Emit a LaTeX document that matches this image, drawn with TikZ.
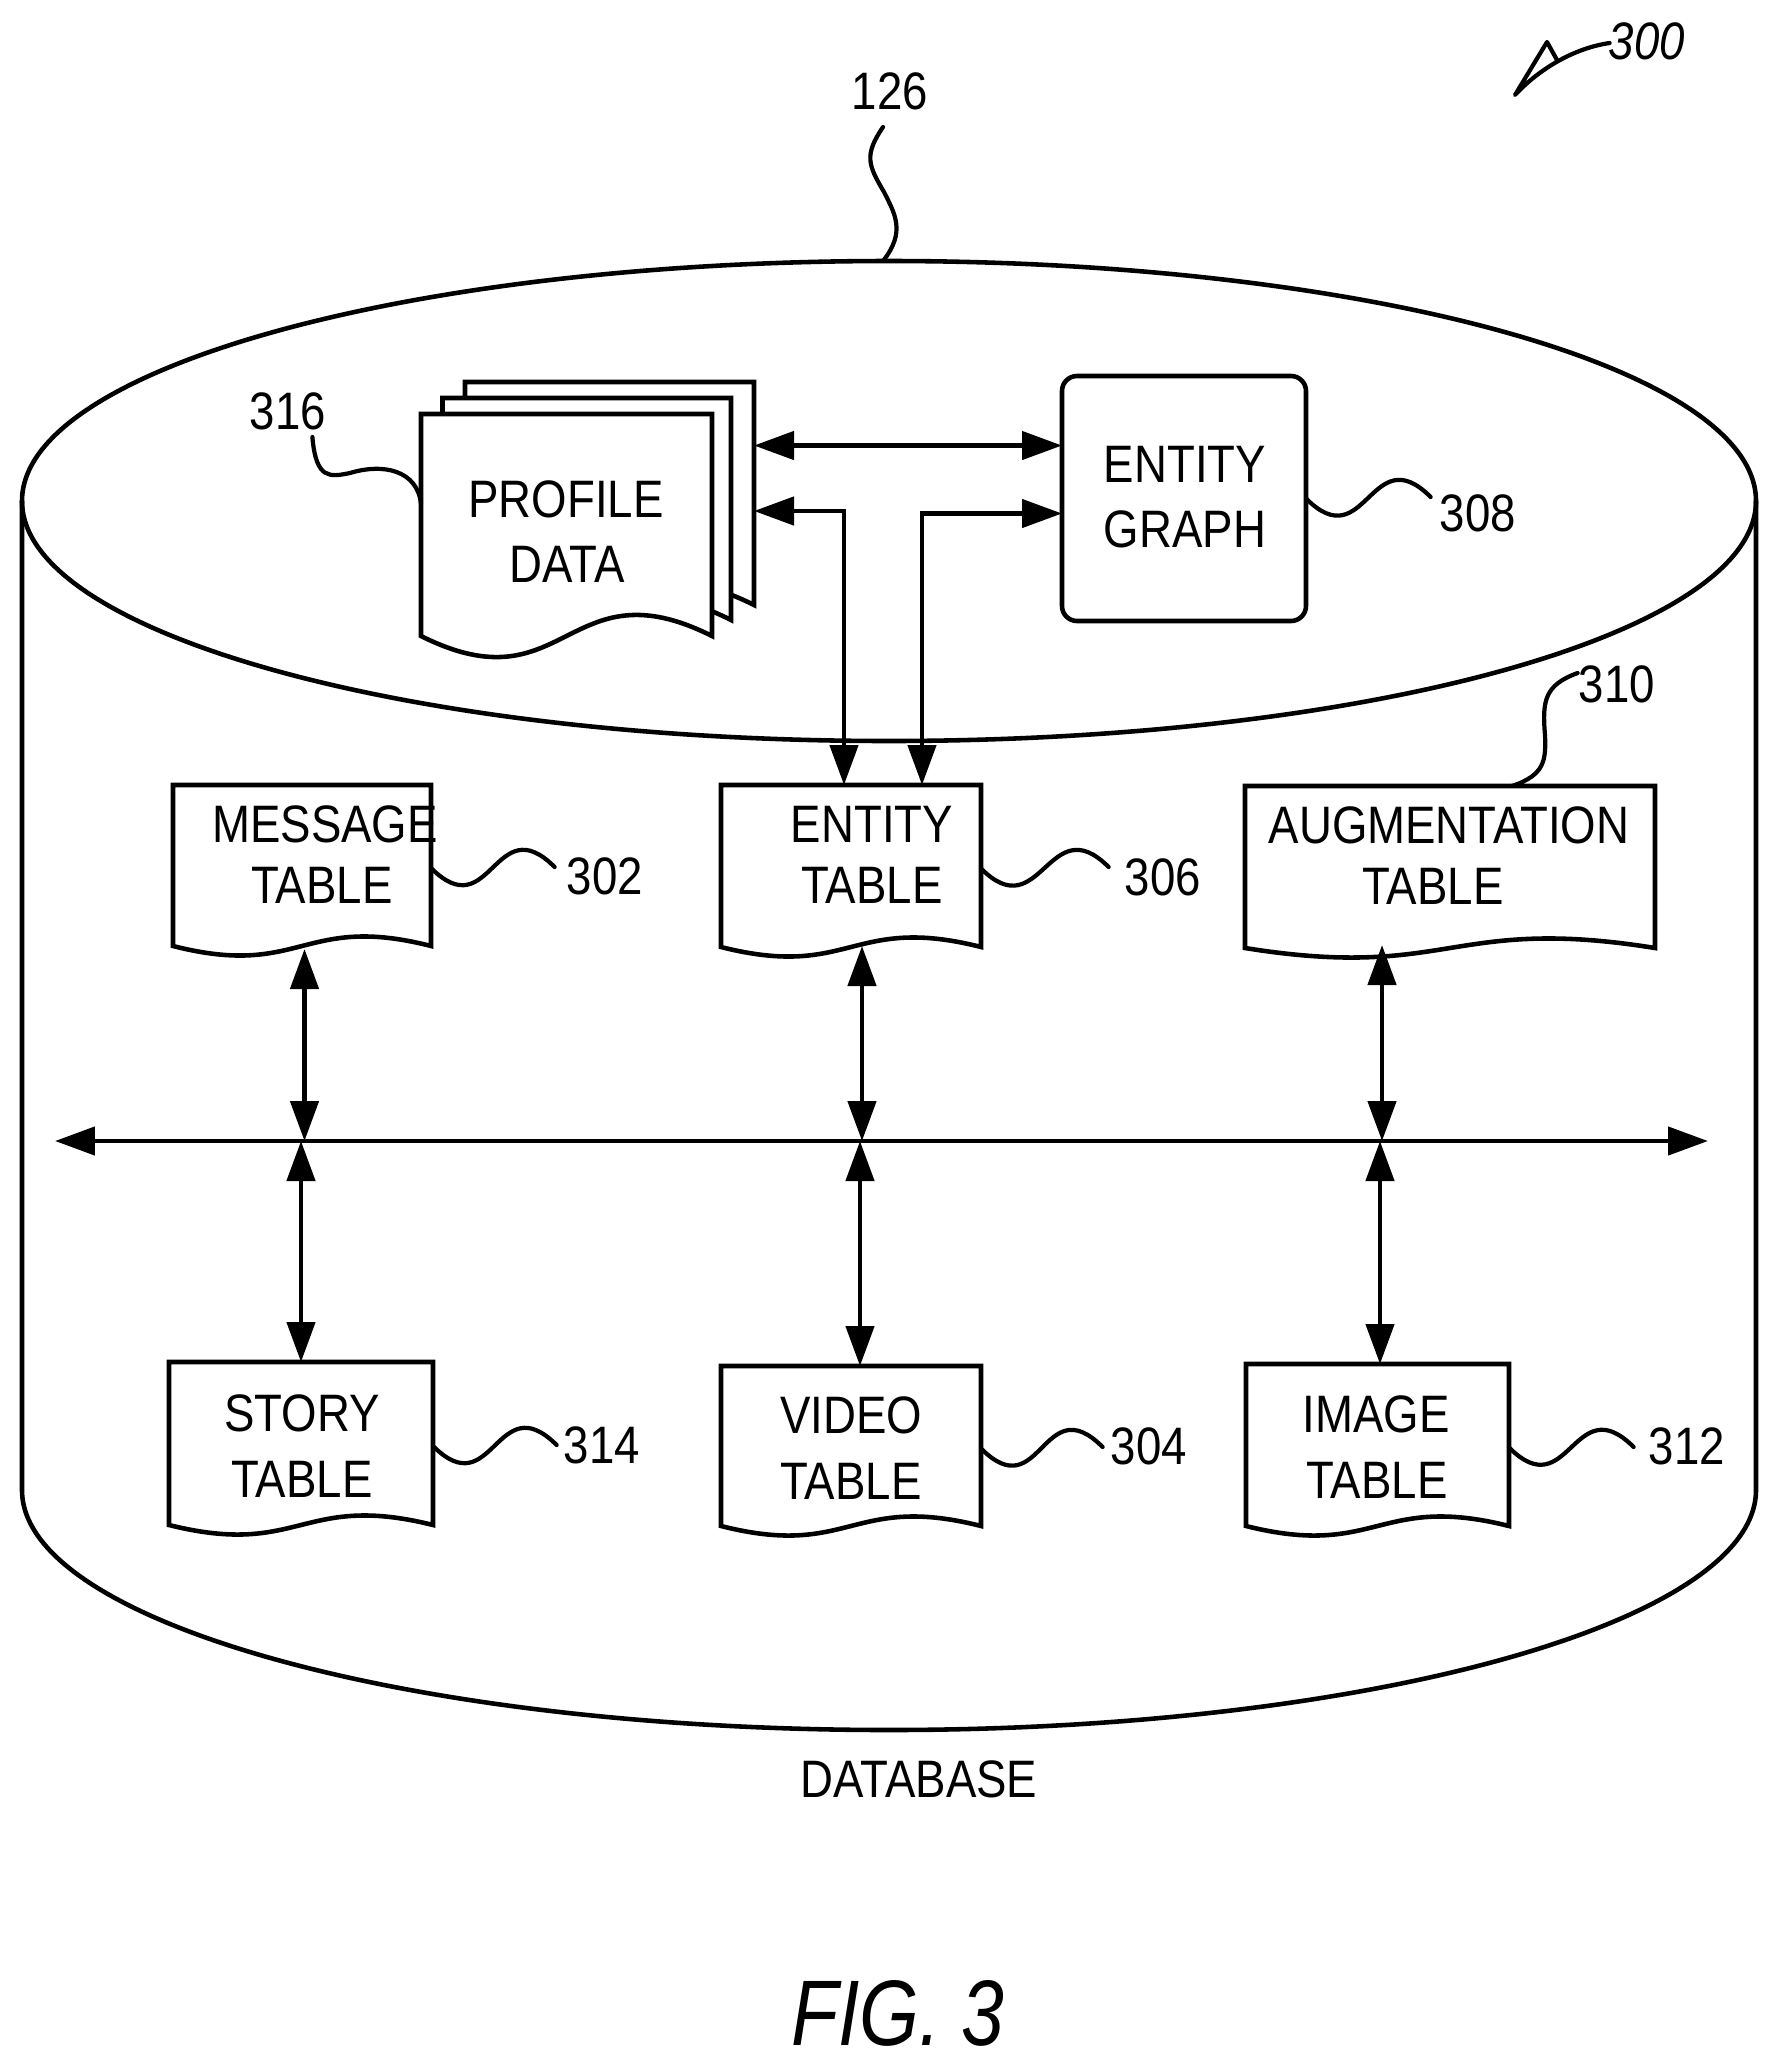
\documentclass[tikz,border=0pt]{standalone}
\usepackage{fontspec}
\setmainfont{Liberation Sans}[FakeStretch=0.865]
\newfontfamily\figfont{Liberation Sans}[FakeStretch=0.825]
\usetikzlibrary{arrows.meta}

\tikzset{
    line/.style={line width=2.6pt},
    lead/.style={line width=2.4pt, line cap=round, line join=round},
    both/.style={line, {Triangle[length=0.8cm,width=0.56cm]}-{Triangle[length=0.8cm,width=0.56cm]}},
    sheet/.style={rectangle, inner sep=0pt, outer sep=0pt, anchor=north west},
    caption/.style={inner sep=0pt, anchor=base, font=\fontsize{30}{36}\selectfont},
    refnum/.style={inner sep=0pt, font=\fontsize{30}{36}\selectfont},
}

% depth of the wave (optional), name, left, top, width, height of the sides
\newcommand{\docsheet}[6][33]{%
    \node[sheet, minimum width=#5*0.02cm, minimum height=(#6+5)*0.02cm] (#2) at (#3,#4) {};
    \draw[line, fill=white] (#2.north east) -- (#2.north west) -- ([yshift=0.1cm]#2.south west)
        .. controls +(#5/2,#1) and +(-#5/2,-#1) .. ([yshift=0.1cm]#2.south east) -- cycle;
}
\newcommand{\squiggle}[2]{\draw[lead] (#1) .. controls +(60,60) and +(-60,-60) .. (#2);}

\begin{document}
\begin{tikzpicture}[x=0.02cm, y=-0.02cm]
    \useasboundingbox (0,0) rectangle (1778,2066);

    % Cylinder
    \draw[line] (889,501) ellipse [x radius=867, y radius=240];
    \draw[line] (22,501) -- (22,1490) .. controls (22,1622) and (410,1730) .. (889,1730)
        .. controls (1368,1730) and (1756,1622) .. (1756,1490) -- (1756,501);
    \coordinate (dbtop) at (883,261);
    \node[caption] (dbname) at (919,1797) {DATABASE};

    % Profile data
    \docsheet[73]{back}{465}{382}{289}{223}
    \docsheet[73]{mid}{442.5}{398}{288.5}{222}
    \docsheet[73]{front}{421}{414}{291}{222}
    \node[caption] (frontA) at (566,517) {PROFILE};
    \node[caption] (frontB) at (567,582) {DATA};

    % Entity graph
    \node[sheet, draw, line, rounded corners=0.3cm, minimum width=244*0.02cm, minimum height=245*0.02cm] (graph) at (1062,376) {};
    \node[caption] (graphA) at (1185,482) {ENTITY};
    \node[caption] (graphB) at (1185,547) {GRAPH};

    % Tables, top row
    \docsheet{msg}{173}{785}{258}{161}
    \node[caption] (msgA) at (325,842) {MESSAGE};
    \node[caption] (msgB) at (322,903) {TABLE};
    \docsheet{ent}{721}{785}{260}{162}
    \node[caption] (entA) at (872,842) {ENTITY};
    \node[caption] (entB) at (872,903) {TABLE};
    \docsheet{aug}{1245}{786}{410}{162}
    \node[caption] (augA) at (1449,843) {AUGMENTATION};
    \node[caption] (augB) at (1433,904) {TABLE};

    % Tables, bottom row
    \docsheet{story}{169}{1362}{264}{163}
    \node[caption] (storyA) at (302,1431) {STORY};
    \node[caption] (storyB) at (302,1497) {TABLE};
    \docsheet{video}{721}{1366}{260}{160}
    \node[caption] (videoA) at (851,1433) {VIDEO};
    \node[caption] (videoB) at (851,1499) {TABLE};
    \docsheet{image}{1246}{1364}{263}{162}
    \node[caption] (imageA) at (1376,1432) {IMAGE};
    \node[caption] (imageB) at (1377,1498) {TABLE};

    % Arrows around the profile data
    \coordinate (gtop) at ([yshift=1.06cm]graph.west);
    \coordinate (gbot) at ([yshift=-0.3cm]graph.west);
    \coordinate (pbot) at ([yshift=-0.3cm]back.east);
    \coordinate (enta) at ([xshift=-0.14cm]ent.north);
    \coordinate (entb) at ([xshift=1.42cm]ent.north);
    \draw[both] (gtop -| back.east) -- (gtop);
    \draw[both] (pbot) -| (enta);
    \draw[both] (gbot) -| (entb);

    % Bus
    \coordinate (busL) at (55,1141);
    \coordinate (busR) at (1708,1141);
    \draw[both] (busL) -- (busR);
    \coordinate (msgx) at ([shift={(0.05cm,0.04cm)}]msg.south);
    \coordinate (entx) at ([shift={(0.22cm,0.12cm)}]ent.south);
    \coordinate (augx) at ([shift={(-1.36cm,0.16cm)}]aug.south);
    \coordinate (videox) at ([xshift=0.18cm]video.north);
    \coordinate (imagex) at ([xshift=0.05cm]image.north);
    \draw[both] (msgx) -- (msgx |- busL);
    \draw[both] (entx) -- (entx |- busL);
    \draw[both] (augx) -- (augx |- busL);
    \draw[both] (story.north) -- (story.north |- busL);
    \draw[both] (videox) -- (videox |- busL);
    \draw[both] (imagex) -- (imagex |- busL);

    % Reference numbers
    \node[refnum] (n126) at (890,91) {126};
    \node[refnum] (n316) at (288,411) {316};
    \node[refnum] (n308) at (1478,513) {308};
    \node[refnum] (n310) at (1617,684) {310};
    \node[refnum] (n302) at (605,876) {302};
    \node[refnum] (n306) at (1163,877) {306};
    \node[refnum] (n314) at (602,1445) {314};
    \node[refnum] (n304) at (1149,1446) {304};
    \node[refnum] (n312) at (1687,1446) {312};
    \node[refnum, font=\fontsize{30}{36}\selectfont\itshape] (n300) at (1647,41) {300};

    \squiggle{msg.east}{[shift={(-12,-9)}]n302.west}
    \squiggle{ent.east}{[shift={(-16,-10)}]n306.west}
    \squiggle{graph.east}{[shift={(-9,-16)}]n308.west}
    \squiggle{story.east}{[shift={(-7,0)}]n314.west}
    \squiggle{video.east}{[shift={(-8,1)}]n304.west}
    \squiggle{image.east}{[shift={(-15,1)}]n312.west}

    \draw[lead] ([shift={(-7,17)}]n126.south) .. controls (864,155) and (868,165) .. (884,192)
        .. controls (895,214) and (906,232) .. (dbtop);
    \draw[lead] ([shift={(-14,7)}]n316.south east) .. controls (316,480) and (330,477) .. (350,473)
        .. controls (383,463) and (417,470) .. ([yshift=0.48cm]front.west);
    \draw[lead] ([xshift=1.24cm]aug.north) .. controls (1545,775) and (1546,760) .. (1545,735)
        .. controls (1542,700) and (1545,685) .. ([shift={(-1,-11)}]n310.west);

    % Figure pointer
    \coordinate (tip300) at (1515,95);
    \draw[lead] ([shift={(1,2)}]n300.west) .. controls (1575,48) and (1540,68) .. (tip300) -- (1547,42) -- (1557,60);

    % Caption
    \node[caption, font=\fontsize{53}{60}\selectfont\figfont\itshape] (fig) at (898,2045) {FIG. 3};
\end{tikzpicture}
\end{document}
